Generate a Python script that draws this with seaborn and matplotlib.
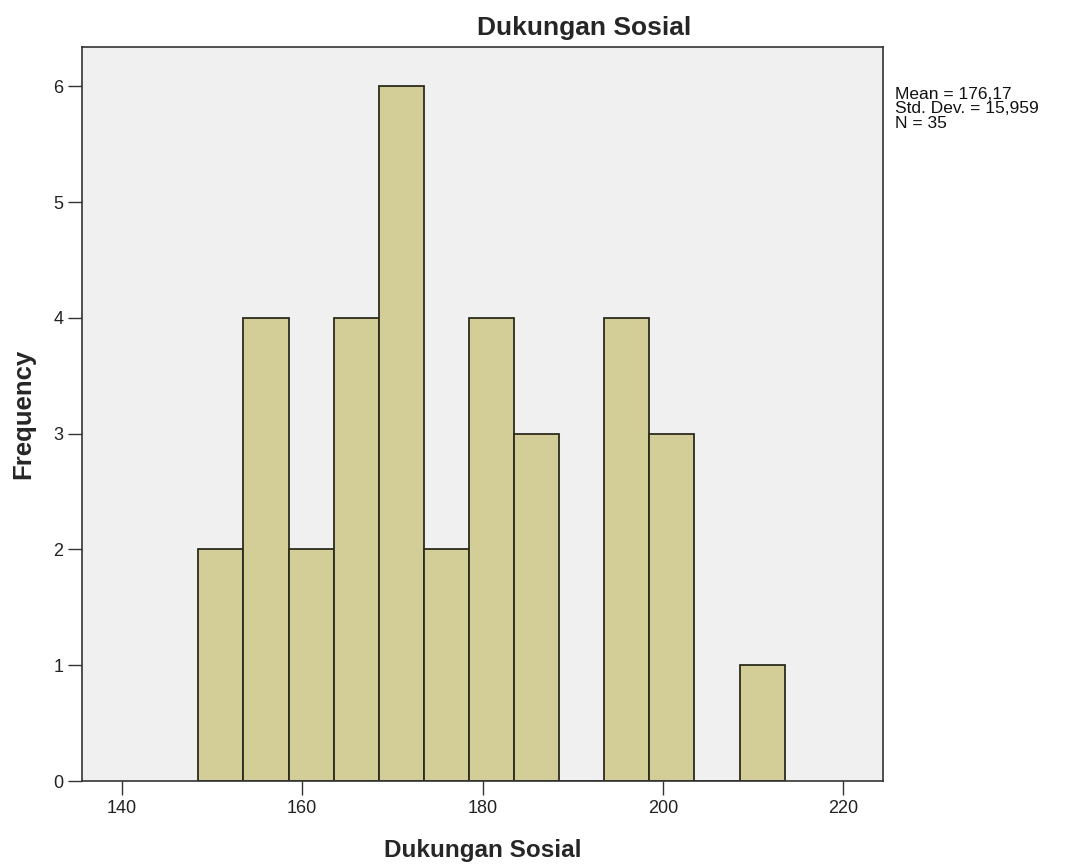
import numpy as np
import pandas as pd
import matplotlib
matplotlib.use("Agg")
import matplotlib.pyplot as plt
import seaborn as sns

# histogram bins (width 5) and frequencies
bin_left = [148.5, 153.5, 158.5, 163.5, 168.5, 173.5, 178.5, 183.5, 188.5, 193.5, 198.5, 203.5, 208.5]
freq = [2, 4, 2, 4, 6, 2, 4, 3, 0, 4, 3, 0, 1]
stats_text = ["Mean = 176,17", "Std. Dev. = 15,959", "N = 35"]

edges = bin_left + [bin_left[-1] + 5]
centers = [b + 2.5 for b in bin_left]
df = pd.DataFrame({"skor": centers, "freq": freq})

sns.set_style("white")
plt.rcParams["font.family"] = ["Liberation Sans", "DejaVu Sans"]

fig = plt.figure(figsize=(10.73, 8.65), dpi=100)
ax = fig.add_axes([82 / 1073, 1 - 781 / 865, (883 - 82) / 1073, (781 - 47) / 865])
ax.set_facecolor("#F0F0F0")

sns.histplot(data=df, x="skor", weights="freq", bins=edges, ax=ax,
             color="#D3CE97", edgecolor="#2b2b1e", linewidth=1.3, alpha=1)

ax.set_xlim(135.6, 224.4)
ax.set_ylim(0, 6.34)
ax.set_xticks([140, 160, 180, 200, 220])
ax.set_yticks(range(0, 7))
ax.tick_params(axis="both", direction="out", length=10, width=1, color="#333333",
               labelsize=13, labelcolor="#222222", bottom=True, left=True)
for s in ax.spines.values():
    s.set_color("#333333")
    s.set_linewidth(1.2)

fig.text(584 / 1073, 1 - 28 / 865, "Dukungan Sosial", fontsize=19, fontweight="bold",
         ha="center", va="center")
ax.set_xlabel("Dukungan Sosial", fontsize=17.5, fontweight="bold", labelpad=16)
ax.set_ylabel("Frequency", fontsize=18.5, fontweight="bold", labelpad=13)

fig.text(895 / 1073, 1 - 87 / 865, "\n".join(stats_text), fontsize=12.5,
         va="top", ha="left", linespacing=0.95, color="#111111")

fig.savefig("out.png", dpi=100, facecolor="white")
